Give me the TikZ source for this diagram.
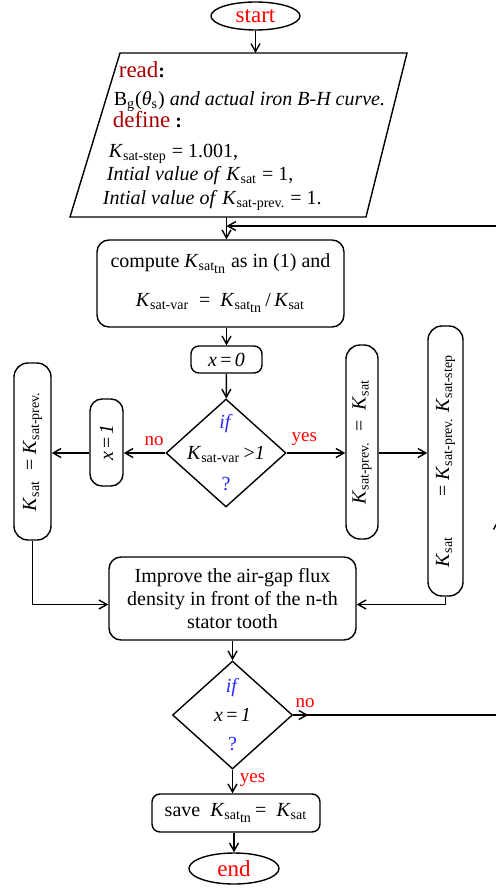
\documentclass[tikz,border=0pt]{standalone}
\usepackage{fontspec}
\setmainfont{Liberation Serif}
\usepackage{xcolor}
\usepackage{tikz}
\usetikzlibrary{arrows.meta,shapes.geometric,calc}

\definecolor{kwred}{RGB}{170,0,0}
\definecolor{ifblue}{RGB}{40,40,255}
\newcommand{\Kv}[1]{\textit{K}\textsubscript{#1}}
\newcommand{\Ktn}{\textit{K}\textsubscript{sat\raisebox{-0.45ex}{tn}}}

\begin{document}
\begin{tikzpicture}[
  x=0.5pt, y=-0.5pt,
  font=\fontsize{10}{12}\selectfont,
  line width=0.7pt,
  term/.style={draw, ellipse, inner sep=0pt, text=red, font=\fontsize{11.5}{12}\selectfont},
  box/.style={draw, rounded corners=6pt, align=center, inner sep=2pt},
  pill/.style={draw, rounded corners=7pt, rotate=90, inner sep=2pt},
  dec/.style={draw, diamond, inner sep=0pt, minimum width=60pt, minimum height=54pt},
  lbl/.style={text=red, font=\fontsize{9.5}{11}\selectfont},
  arr/.style={-{Straight Barb[length=4pt,width=4.5pt]}}
]
\useasboundingbox (0,0) rectangle (496,888);

\node[term, minimum width=44.5pt, minimum height=14pt] (start) at (255.5,16) {start};

% input / output block
\coordinate (pa) at (120,53);
\coordinate (pb) at (407,53);
\coordinate (pc) at (366,217);
\coordinate (pd) at (70,217);
\draw (pa) -- (pb) -- (pc) -- (pd) -- cycle;
\node[align=left, inner sep=0pt] (inp) at (244,136) {%
  \hspace*{8pt}{\color{kwred}\fontsize{11.5}{12}\selectfont read}\textbf{:}\\[2pt]
  \hspace*{5.5pt}B\textsubscript{g}(\textit{θ}\textsubscript{s}) \textit{and actual iron B-H curve.}\\[-1pt]
  \hspace*{5pt}{\color{kwred}\fontsize{11.5}{12}\selectfont define} \textbf{:}\\[3pt]
  \hspace*{3pt}\Kv{sat-step} = 1.001,\\[-0.5pt]
  \hspace*{2pt}\textit{Intial value of} \Kv{sat} = 1,\\
  \textit{Intial value of} \Kv{sat-prev.} = 1.};

\node[box, minimum width=123.5pt, minimum height=43.5pt] (comp) at (220.5,283.5)
  {compute \Ktn{} as in (1) and\\[7.5pt]\Kv{sat-var}\ \ =\ \ \Ktn{}\,/\,\Kv{sat}};
\node[box, rounded corners=4pt, minimum width=35.5pt, minimum height=13.5pt] (xzero) at (226.5,359.5)
  {\textit{x}\,=\,\textit{0}};

\node[dec] (chk1) at (226,453) {};
\node[align=center, inner sep=0pt, font=\fontsize{10}{15.5}\selectfont] (chk1txt) at (chk1)
  {\textcolor{ifblue}{\textit{if}}\\\Kv{sat-var}\,>\textit{1}\\\textcolor{ifblue}{?}};

\node[pill, rounded corners=6pt, minimum width=43.5pt, minimum height=16.5pt] (xone) at (106.5,442.5)
  {\textit{x}\,=\,\textit{1}};
\node[pill, minimum width=88.5pt, minimum height=18.5pt] (kback) at (32.5,451.5)
  {\Kv{sat}\ \ = \Kv{sat-prev.}};
\node[pill, minimum width=97pt, minimum height=16pt] (kkeep) at (362,442)
  {\Kv{sat-prev.}\ \ =\ \ \Kv{sat}};
\node[pill, minimum width=135pt, minimum height=17.5pt] (kstep) at (445.5,461)
  {\Kv{sat}\hspace{20pt}= \Kv{sat-prev.}\ \Kv{sat-step}};

\node[box, minimum width=123.5pt, minimum height=41.5pt, font=\fontsize{10}{11.3}\selectfont] (improve) at (232.5,598.5)
  {Improve the air-gap flux\\density in front of the n-th\\stator tooth};

\node[dec] (chk2) at (232.5,715) {};
\node[align=center, inner sep=0pt, font=\fontsize{10}{14.5}\selectfont] (chk2txt) at (chk2)
  {\textcolor{ifblue}{\textit{if}}\\\textit{x}\,=\,\textit{1}\\\textcolor{ifblue}{?}};

\node[box, rounded corners=4pt, minimum width=84pt, minimum height=19pt] (save) at (236,813)
  {save\ \ \Ktn\,= \ \Kv{sat}};
\node[term, minimum width=45pt, minimum height=15.5pt] (stop) at (234,868.5) {end};

\coordinate (lpb) at (498,715);
\coordinate (lpm) at (498,520);
\coordinate (lpt) at (498,226);

\draw[arr] (start) -- (start |- pa);
\draw[arr] (xzero |- pd) -- (xzero |- comp.north);
\draw[arr] (xzero |- comp.south) -- (xzero);
\draw[arr] (xzero) -- (chk1);
\draw[arr] (chk1.west) -- node[lbl, above, pos=0.27] (no1) {no} (chk1.west -| xone.south);
\draw[arr] (chk1.west -| xone.north) -- (chk1.west -| kback.south);
\draw[arr] (chk1.east) -- node[lbl, above, pos=0.3] (yes1) {yes} (chk1.east -| kkeep.north);
\draw[arr] (chk1.east -| kkeep.south) -- (chk1.east -| kstep.north);
\draw[arr] (kback.west) |- ([yshift=-3pt]improve.west);
\draw[arr] (kstep.west) |- ([yshift=-3pt]improve.east);
\draw[arr] (improve) -- (chk2);
\draw[arr] (chk2.east) -- node[lbl, above, pos=0.8] (no2) {no} ++(15,0);
\draw (chk2.east) -- (lpb);
\draw[arr] (lpb) -- (lpm);
\draw[arr] (lpm) -- (lpt) -- (lpt -| xzero);
\draw[arr] (chk2.south) -- node[lbl, right, pos=0.45] (yes2) {yes} (chk2.south |- save.north);
\draw[arr] (stop |- save.south) -- (stop);
\end{tikzpicture}
\end{document}
